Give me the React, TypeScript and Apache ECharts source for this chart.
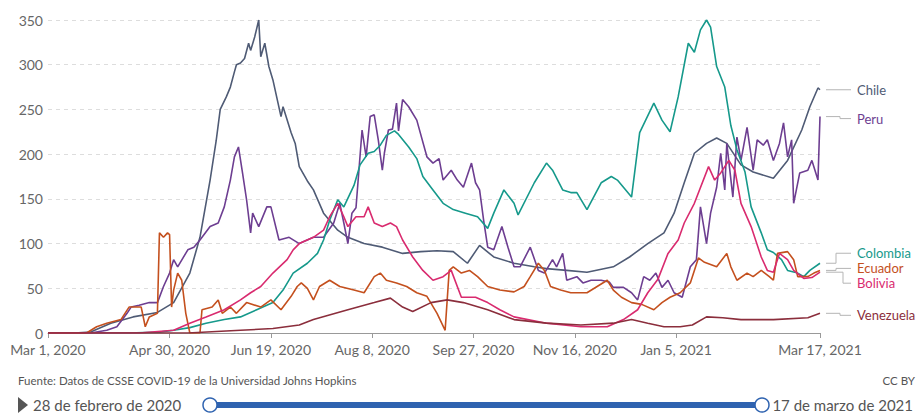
import React, { useEffect, useRef } from "react";
import * as echarts from "echarts";

// x = days since Mar 1, 2020
const tickDays = [0, 60, 110, 160, 210, 260, 310, 381];
const tickLabels = ["Mar 1, 2020", "Apr 30, 2020", "Jun 19, 2020", "Aug 8, 2020", "Sep 27, 2020", "Nov 16, 2020", "Jan 5, 2021", "Mar 17, 2021"];

const chile: [number, number][] = [
  [0, 0], [13, 0], [21, 1], [31, 11], [42, 18], [54, 23], [62, 34], [70, 67], [75, 107], [80, 171], [83, 215], [85, 250],
  [88, 264], [90, 275], [92, 292], [93, 300], [95, 302], [97, 307], [99, 324], [100, 316], [102, 331], [104, 350], [105, 309],
  [107, 324], [109, 298], [111, 283], [115, 242], [116, 253], [120, 224], [122, 212], [124, 186], [128, 170], [131, 160],
  [136, 134], [143, 115], [148, 107], [156, 100], [165, 96], [175, 89], [184, 91], [192, 92], [200, 91], [207, 78], [213, 98],
  [220, 85], [230, 78], [240, 74], [246, 72], [256, 70], [266, 68], [279, 74], [287, 85], [296, 100], [304, 112], [309, 134],
  [314, 168], [319, 201], [325, 212], [330, 218], [335, 212], [342, 188], [348, 180], [358, 173], [365, 193], [372, 227],
  [376, 253], [380, 274], [381, 272],
];

const peru: [number, number][] = [
  [0, 0], [21, 0], [29, 3], [34, 7], [39, 22], [41, 29], [45, 31], [50, 34], [54, 34], [57, 52], [60, 67], [62, 82], [64, 74],
  [69, 93], [72, 96], [75, 104], [80, 119], [84, 123], [87, 141], [90, 171], [92, 197], [94, 208], [96, 179], [98, 149],
  [100, 112], [101, 134], [104, 119], [108, 141], [110, 141], [114, 104], [119, 107], [124, 100], [131, 107], [136, 107],
  [141, 123], [144, 145], [146, 123], [148, 100], [150, 134], [152, 140], [155, 227], [157, 197], [159, 242], [161, 244],
  [163, 216], [165, 182], [166, 201], [168, 227], [170, 228], [172, 257], [173, 226], [175, 261], [178, 253], [182, 238],
  [187, 197], [190, 190], [193, 195], [195, 171], [199, 182], [202, 171], [205, 163], [209, 190], [211, 168], [213, 160],
  [215, 126], [217, 96], [220, 93], [224, 119], [227, 96], [230, 74], [233, 74], [238, 96], [242, 70], [245, 67], [249, 82],
  [251, 74], [254, 89], [256, 59], [261, 63], [264, 56], [268, 59], [273, 59], [277, 57], [279, 51], [284, 51], [288, 45],
  [291, 37], [294, 63], [297, 59], [300, 67], [303, 51], [306, 59], [309, 45], [313, 40], [317, 74], [320, 82], [322, 141],
  [325, 100], [327, 134], [330, 163], [332, 201], [334, 160], [335, 212], [338, 152], [340, 219], [342, 193], [345, 230],
  [348, 182], [350, 216], [353, 210], [355, 216], [358, 193], [361, 212], [363, 235], [365, 197], [367, 216], [368, 145],
  [371, 179], [375, 182], [377, 193], [380, 171], [381, 242],
];

const colombia: [number, number][] = [
  [0, 0], [40, 0], [55, 1], [62, 3], [70, 6], [78, 11], [87, 15], [95, 18], [103, 26], [111, 34], [116, 48], [121, 67],
  [128, 78], [133, 89], [136, 104], [139, 126], [143, 149], [146, 141], [151, 165], [154, 188], [158, 201], [161, 203],
  [164, 210], [167, 221], [171, 226], [173, 222], [178, 208], [182, 195], [185, 175], [190, 160], [195, 145], [200, 138],
  [206, 134], [212, 130], [217, 117], [220, 134], [225, 160], [230, 145], [232, 132], [240, 168], [246, 190], [249, 182],
  [254, 160], [258, 157], [261, 157], [266, 138], [273, 168], [278, 175], [281, 171], [288, 152], [292, 224], [299, 257],
  [303, 238], [307, 225], [311, 264], [316, 324], [319, 314], [322, 339], [325, 350], [327, 342], [330, 298], [334, 275],
  [337, 232], [340, 205], [344, 180], [347, 141], [352, 112], [355, 93], [358, 90], [362, 82], [365, 70], [370, 67],
  [373, 63], [376, 70], [381, 78],
];

const ecuador: [number, number][] = [
  [0, 0], [19, 0], [24, 7], [29, 11], [36, 15], [40, 29], [46, 29], [48, 7], [50, 18], [54, 22], [55, 112], [57, 107],
  [59, 112], [60, 110], [61, 29], [62, 48], [64, 67], [66, 59], [68, 22], [70, 0], [75, 0], [76, 26], [81, 29], [84, 37],
  [86, 22], [90, 29], [93, 22], [98, 34], [105, 29], [110, 37], [115, 26], [120, 41], [123, 52], [125, 56], [128, 50],
  [131, 37], [134, 52], [139, 59], [144, 52], [151, 48], [156, 45], [161, 63], [164, 67], [167, 59], [172, 56], [177, 52],
  [182, 45], [187, 41], [192, 22], [196, 3], [198, 70], [200, 74], [204, 67], [208, 70], [212, 63], [217, 52], [223, 48],
  [230, 46], [235, 52], [238, 63], [242, 78], [245, 70], [248, 52], [253, 48], [258, 45], [266, 45], [271, 52], [276, 59],
  [279, 48], [283, 40], [288, 34], [293, 32], [299, 26], [303, 34], [307, 40], [312, 45], [317, 56], [321, 84], [324, 79],
  [330, 74], [335, 89], [337, 74], [340, 59], [345, 67], [348, 63], [352, 70], [356, 63], [358, 59], [360, 89], [365, 91],
  [368, 82], [370, 63], [375, 63], [378, 67], [381, 70],
];

const bolivia: [number, number][] = [
  [0, 0], [45, 0], [62, 3], [70, 11], [78, 18], [87, 26], [95, 37], [100, 45], [105, 52], [111, 67], [118, 82], [121, 93],
  [124, 100], [131, 107], [136, 115], [139, 130], [143, 145], [146, 130], [148, 119], [152, 130], [156, 130], [158, 141],
  [161, 123], [165, 119], [169, 123], [172, 119], [175, 104], [180, 85], [185, 70], [190, 59], [195, 63], [199, 70],
  [204, 40], [211, 40], [217, 34], [223, 26], [230, 18], [246, 11], [263, 7], [276, 7], [284, 15], [291, 26], [296, 45],
  [301, 60], [306, 89], [311, 104], [314, 123], [319, 145], [326, 186], [329, 171], [332, 179], [336, 193], [339, 182],
  [342, 145], [347, 119], [352, 85], [355, 70], [358, 68], [361, 89], [365, 82], [368, 70], [373, 61], [377, 62], [381, 68],
];

const venezuela: [number, number][] = [
  [0, 0], [69, 0], [95, 3], [111, 5], [124, 9], [131, 15], [148, 26], [161, 34], [169, 39], [175, 29], [180, 24], [189, 34],
  [197, 37], [205, 34], [217, 26], [230, 15], [246, 11], [263, 9], [279, 11], [288, 15], [296, 11], [304, 7], [312, 7],
  [318, 9], [325, 18], [333, 17], [342, 15], [358, 15], [375, 17], [381, 22],
];

const seriesDefs = [
  { name: "Chile", color: "#4f5b75", data: chile, labelDy: 0 },
  { name: "Peru", color: "#6d3e91", data: peru, labelDy: 2 },
  { name: "Colombia", color: "#16998b", data: colombia, labelDy: -10 },
  { name: "Ecuador", color: "#c4501e", data: ecuador, labelDy: -2 },
  { name: "Bolivia", color: "#d92b6f", data: bolivia, labelDy: 11 },
  { name: "Venezuela", color: "#8b2e3c", data: venezuela, labelDy: 2 },
];

const sourceText = "Fuente: Datos de CSSE COVID-19 de la Universidad Johns Hopkins";
const licenseText = "CC BY";
const startLabel = "28 de febrero de 2020";
const endLabel = "17 de marzo de 2021";

const FONT = "Lato, 'Noto Sans', sans-serif";

export default function App() {
  const ref = useRef<HTMLDivElement>(null);
  useEffect(() => {
    if (!ref.current) return;
    const chart = echarts.init(ref.current, undefined, { renderer: "svg" });
    const staticGraphics: any[] = [
      { type: "text", left: 18, top: 374, style: { text: sourceText, fill: "#555", font: `11.5px ${FONT}` } },
      { type: "text", right: 3, top: 374, style: { text: licenseText, fill: "#555", font: `11.5px ${FONT}` } },
      { type: "polygon", shape: { points: [[18, 397], [28, 405], [18, 413]] }, style: { fill: "#555" } },
      { type: "text", left: 33, top: 397, style: { text: startLabel, fill: "#555", font: `15px ${FONT}` } },
      { type: "rect", shape: { x: 210, y: 402, width: 552, height: 6 }, style: { fill: "#2f63b0" } },
      { type: "circle", shape: { cx: 210, cy: 405, r: 7 }, style: { fill: "#fff", stroke: "#2f63b0", lineWidth: 1.5 } },
      { type: "circle", shape: { cx: 762, cy: 405, r: 7 }, style: { fill: "#fff", stroke: "#2f63b0", lineWidth: 1.5 } },
      { type: "text", right: 5, top: 397, style: { text: endLabel, fill: "#555", font: `15px ${FONT}` } },
    ];
    chart.setOption({
      animation: false,
      backgroundColor: "#fff",
      textStyle: { fontFamily: FONT },
      grid: { left: 48, right: 98, top: 20, bottom: 82, containLabel: false },
      xAxis: {
        type: "value",
        min: 0,
        max: 381,
        axisLine: { show: true, lineStyle: { color: "#999", width: 1 } },
        axisTick: { show: true, customValues: tickDays, length: 5, lineStyle: { color: "#999" } },
        axisLabel: {
          customValues: tickDays,
          formatter: (v: number) => tickLabels[tickDays.indexOf(Math.round(v))] ?? "",
          color: "#666",
          fontSize: 14,
          fontFamily: FONT,
          margin: 9,
        },
        splitLine: { show: false },
      },
      yAxis: {
        type: "value",
        min: 0,
        max: 350,
        interval: 50,
        axisLine: { show: false },
        axisTick: { show: false },
        axisLabel: { color: "#666", fontSize: 14, fontFamily: FONT, margin: 5 },
        splitLine: { show: true, lineStyle: { color: "#ddd", type: [4, 4] } },
      },
      series: seriesDefs.map((s) => ({
        name: s.name,
        type: "line",
        data: s.data,
        symbol: "none",
        lineStyle: { color: s.color, width: 1.6 },
        itemStyle: { color: s.color },
        endLabel: {
          show: true,
          formatter: "{a}",
          color: s.color,
          fontSize: 13,
          fontFamily: FONT,
          distance: 37,
          offset: [0, s.labelDy],
        },
        emphasis: { disabled: true },
      })),
      graphic: staticGraphics,
    });
    const connectors = seriesDefs.map((s) => {
      const last = s.data[s.data.length - 1];
      const [px, py] = chart.convertToPixel({ gridIndex: 0 }, last) as number[];
      const ly = py + s.labelDy;
      const elbow = px + (s.labelDy < 0 ? 16 : s.labelDy > 5 ? 23 : 20);
      return {
        type: "polyline",
        shape: { points: [[px + 6, py], [elbow, py], [elbow, ly], [px + 31, ly]] },
        style: { stroke: "#b5b5b5", lineWidth: 1, fill: null },
      };
    });
    chart.setOption({ graphic: [...staticGraphics, ...connectors] });
    return () => chart.dispose();
  }, []);
  return <div ref={ref} style={{ position: "fixed", left: 0, top: 0, width: 918, height: 415 }} />;
}
